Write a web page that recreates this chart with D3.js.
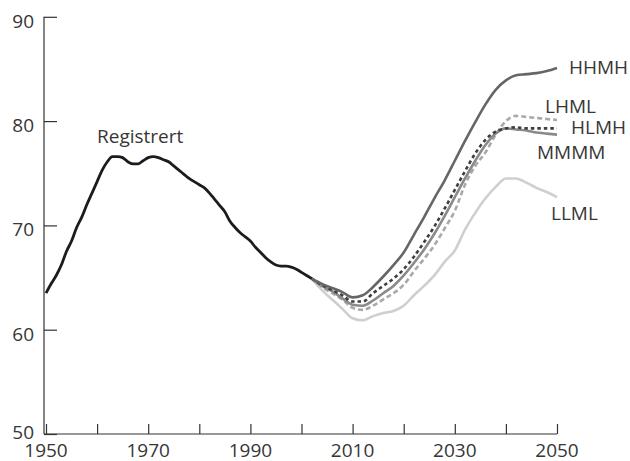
<!DOCTYPE html>
<html>
<head>
<meta charset="utf-8">
<script src="https://cdn.jsdelivr.net/npm/d3@7"></script>
<style>
body { margin: 0; background: #fff; }
text { font-family: "Open Sans", sans-serif; font-size: 19px; fill: #363636; }
</style>
</head>
<body>
<script>
var svgW = 630;
var svgH = 461;

// registered values 1950-2002
var regYears = d3.range(1950, 2003);
var regValues = [63.5, 64.4, 65.2, 66.2, 67.5, 68.5, 69.8, 70.8, 72.0, 73.1,
		 74.2, 75.3, 76.1, 76.6, 76.6, 76.5, 76.1, 75.9, 75.9, 76.2,
		 76.5, 76.6, 76.5, 76.3, 76.1, 75.7, 75.3, 74.9, 74.5, 74.2,
		 73.9, 73.6, 73.1, 72.5, 71.9, 71.3, 70.4, 69.8, 69.3, 68.9,
		 68.5, 67.9, 67.4, 66.9, 66.5, 66.2, 66.1, 66.1, 66.0, 65.8,
		 65.5, 65.2, 64.9];

// projection years, shared by all alternatives
var projYears = [2002, 2004, 2006, 2008, 2010, 2012, 2014, 2016, 2018, 2020,
		 2022, 2024, 2026, 2028, 2030, 2032, 2034, 2036, 2038, 2040,
		 2042, 2044, 2046, 2048, 2050];

var hhmh = [64.9, 64.4, 64.0, 63.6, 63.1, 63.3, 64.1, 65.1, 66.2, 67.4,
	    69.1, 70.8, 72.6, 74.3, 76.2, 78.1, 79.9, 81.6, 83.0, 83.9,
	    84.4, 84.5, 84.6, 84.8, 85.1];
var hlmh = [64.9, 64.3, 63.8, 63.3, 62.7, 62.7, 63.5, 64.2, 64.9, 65.8,
	    67.0, 68.4, 69.9, 71.6, 73.4, 75.2, 76.9, 78.2, 79.0, 79.3,
	    79.4, 79.3, 79.3, 79.3, 79.3];
var mmmm = [64.9, 64.2, 63.7, 63.0, 62.4, 62.3, 62.8, 63.5, 64.2, 65.2,
	    66.4, 67.7, 69.2, 70.9, 72.7, 74.5, 76.2, 77.7, 78.8, 79.3,
	    79.2, 79.1, 78.9, 78.8, 78.7];
var lhml = [64.9, 64.1, 63.5, 62.9, 62.1, 61.9, 62.3, 62.9, 63.5, 64.3,
	    65.6, 66.8, 68.1, 69.7, 71.4, 73.9, 75.7, 77.0, 78.7, 80.0,
	    80.5, 80.4, 80.3, 80.2, 80.1];
var llml = [64.9, 63.8, 62.9, 62.0, 61.1, 60.9, 61.3, 61.6, 61.8, 62.3,
	    63.3, 64.2, 65.2, 66.5, 67.6, 69.6, 71.2, 72.6, 73.7, 74.5,
	    74.5, 74.1, 73.6, 73.2, 72.7];

var xTicks = d3.range(1950, 2051, 10);
var xLabels = [1950, 1970, 1990, 2010, 2030, 2050];
var yTicks = [50, 60, 70, 80, 90];

var series = [
    { name: "LLML", values: llml, colour: "#cfcfcf", dash: null, lx: 551, ly: 220 },
    { name: "LHML", values: lhml, colour: "#a9a9a9", dash: "5,3", lx: 545, ly: 113 },
    { name: "MMMM", values: mmmm, colour: "#8a8a8a", dash: null, lx: 537, ly: 159 },
    { name: "HLMH", values: hlmh, colour: "#3e3e3e", dash: "3.5,3", lx: 571, ly: 134 },
    { name: "HHMH", values: hhmh, colour: "#666666", dash: null, lx: 569, ly: 74 }
];

var xScale = d3.scaleLinear().domain([1950, 2050]).range([46, 557]);
var yScale = d3.scaleLinear().domain([50, 90]).range([434, 16.8]);

var svg = d3.select("body")
    .append("svg")
    .attr("width", svgW)
    .attr("height", svgH);

// axes
var xAxis = d3.axisTop(xScale)
    .tickValues(xTicks)
    .tickSize(10)
    .tickFormat("");
var gx = svg.append("g")
    .attr("transform", "translate(0," + yScale(50) + ")")
    .call(xAxis);
gx.select(".domain").attr("d", "M44,0H" + xScale(2050));

var yAxis = d3.axisRight(yScale)
    .tickValues(yTicks)
    .tickSize(13)
    .tickFormat("");
svg.append("g")
    .attr("transform", "translate(44,0)")
    .call(yAxis)
    .select(".domain").attr("d", "M0," + yScale(90) + "V" + yScale(50));

svg.selectAll(".domain, .tick line")
    .attr("stroke", "#333")
    .attr("stroke-width", 1.2);

svg.selectAll(".xlab")
    .data(xLabels)
    .enter()
    .append("text")
    .attr("class", "xlab")
    .attr("text-anchor", "middle")
    .attr("x", function(d) { return xScale(d); })
    .attr("y", 457)
    .text(function(d) { return d; });

// the bottom label sits a bit higher so it clears 1950
svg.selectAll(".ylab")
    .data(yTicks)
    .enter()
    .append("text")
    .attr("class", "ylab")
    .attr("text-anchor", "end")
    .attr("x", 34)
    .attr("y", function(d) { return yScale(d) + (d == 50 ? 5 : 11); })
    .text(function(d) { return d; });

// lines
var line = d3.line()
    .x(function(d) { return xScale(d[0]); })
    .y(function(d) { return yScale(d[1]); })
    .curve(d3.curveMonotoneX);

series.forEach(function(s) {
    var pts = projYears.map(function(y, i) { return [y, s.values[i]]; });
    svg.append("path")
	.attr("d", line(pts))
	.attr("fill", "none")
	.attr("stroke", s.colour)
	.attr("stroke-width", 2.6)
	.attr("stroke-dasharray", s.dash);
    svg.append("text")
	.attr("x", s.lx)
	.attr("y", s.ly)
	.text(s.name);
});

var regPts = regYears.map(function(y, i) { return [y, regValues[i]]; });
svg.append("path")
    .attr("d", line(regPts))
    .attr("fill", "none")
    .attr("stroke", "#1c1c1c")
    .attr("stroke-width", 2.8);

svg.append("text")
    .attr("x", 97)
    .attr("y", 143)
    .text("Registrert");
</script>
</body>
</html>
